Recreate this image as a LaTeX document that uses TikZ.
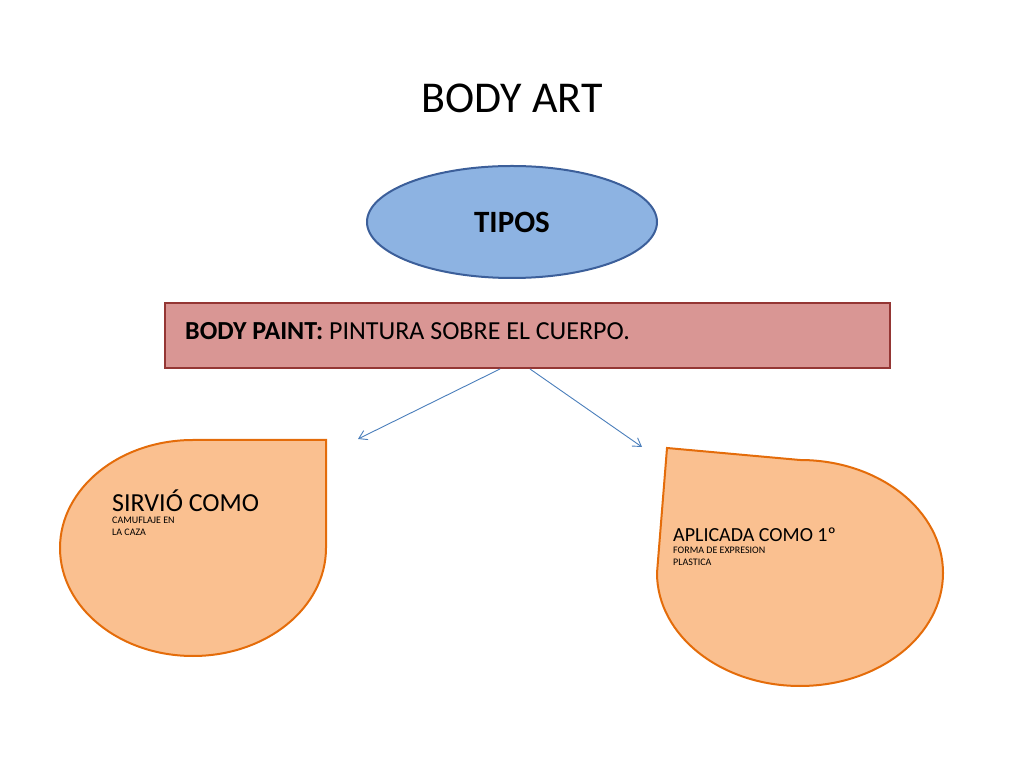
\documentclass[tikz,border=0pt]{standalone}
\usepackage{fontspec}
\setmainfont{Carlito}
\usetikzlibrary{shapes.geometric,arrows.meta}
\definecolor{ellf}{HTML}{8DB3E2}\definecolor{elld}{HTML}{3C5F9A}
\definecolor{recf}{HTML}{D99694}\definecolor{recd}{HTML}{943634}
\definecolor{dropf}{HTML}{FAC090}\definecolor{dropd}{HTML}{E46C0A}
\definecolor{arr}{HTML}{4A7EBB}
\tikzset{drop/.style={fill=dropf,draw=dropd,line width=2pt},
 conn/.style={draw=arr,line width=0.9pt,-{Straight Barb[length=8pt,width=10pt]}},
 txt/.style={align=left,anchor=north west,inner sep=0pt}}
\begin{document}
\begin{tikzpicture}[x=1pt,y=1pt]
\useasboundingbox (0,0) rectangle (1024,768);
\node (title) at (512,670) {\fontsize{44}{50}\selectfont BODY ART};
\node[ellipse,fill=ellf,draw=elld,line width=2pt,minimum width=290pt,minimum height=112pt] (tipos) at (512,546) {\fontsize{31}{36}\selectfont\bfseries TIPOS};
\node[rectangle,fill=recf,draw=recd,line width=1.5pt,minimum width=725pt,minimum height=65pt] (paint) at (527.5,432.5) {};
\node[anchor=west,inner sep=0pt] (ptxt) at (185,437) {\fontsize{26}{30}\selectfont\textbf{BODY PAINT:} PINTURA SOBRE EL CUERPO.};
\coordinate (a1) at (500,399);
\coordinate (a2) at (530,399);
\coordinate (t1) at (358,329);
\coordinate (t2) at (642,321);
\draw[conn] (a1) -- (t1);
\draw[conn] (a2) -- (t2);
\draw[drop] (326,328) -- (326,220) arc[start angle=0,end angle=-270,x radius=133,y radius=108] -- cycle;
\draw[drop] (667,320) -- (800,308) arc[start angle=90,end angle=-180,x radius=143,y radius=113] -- cycle;
\node[txt] (ltxt) at (112,278) {\fontsize{26}{41}\selectfont SIRVIÓ COMO\\CAMUFLAJE EN\\LA CAZA};
\node[txt] (rtxt) at (673,240) {\fontsize{20}{33.5}\selectfont APLICADA COMO 1º\\FORMA DE EXPRESION\\PLASTICA};
\end{tikzpicture}
\end{document}
